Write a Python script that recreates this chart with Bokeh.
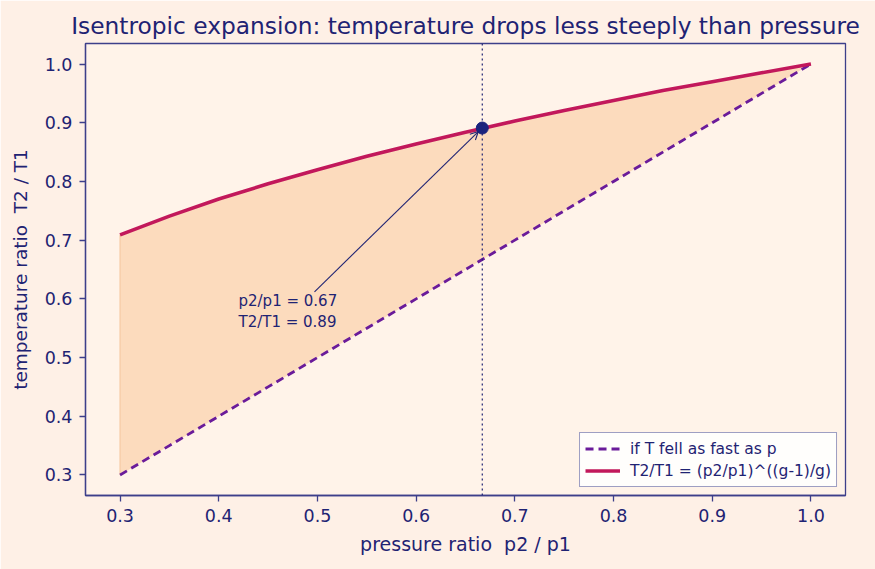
from bokeh.plotting import figure
from bokeh.models import Range1d, Span, Arrow, OpenHead, Label, Legend, LegendItem, ColumnDataSource, FixedTicker, PrintfTickFormatter
from bokeh.embed import file_html
from bokeh.resources import INLINE

# data
pressure_ratio = [0.30, 0.35, 0.40, 0.45, 0.50, 0.55, 0.60, 0.65, 0.70, 0.75, 0.80, 0.85, 0.90, 0.95, 1.00]
temp_ratio = [0.709, 0.741, 0.770, 0.796, 0.820, 0.843, 0.864, 0.884, 0.903, 0.921, 0.938, 0.955, 0.970, 0.985, 1.000]
linear_ratio = [0.30, 0.35, 0.40, 0.45, 0.50, 0.55, 0.60, 0.65, 0.70, 0.75, 0.80, 0.85, 0.90, 0.95, 1.00]
marker_p = [0.667]
marker_t = [0.891]
annot_text = "p2/p1 = 0.67\nT2/T1 = 0.89"
annot_xy = [0.42, 0.545]
arrow_from = [0.497, 0.612]
x_ticks = [0.3, 0.4, 0.5, 0.6, 0.7, 0.8, 0.9, 1.0]
y_ticks = [0.3, 0.4, 0.5, 0.6, 0.7, 0.8, 0.9, 1.0]

NAVY = "#1f2373"
SPINE = "#3d3f8a"
CRIMSON = "#c2185b"
PURPLE = "#6a1b9a"
FONT = "DejaVu Sans"

src = ColumnDataSource(dict(p=pressure_ratio, t=temp_ratio, lin=linear_ratio))

p = figure(width=875, height=569, output_backend="svg", toolbar_location=None,
           x_range=Range1d(0.265, 1.035), y_range=Range1d(0.265, 1.035),
           min_border_left=85, min_border_right=30, min_border_top=43, min_border_bottom=74,
           background_fill_color="#fff3e9", border_fill_color="#fef0e6",
           title="Isentropic expansion: temperature drops less steeply than pressure")

p.title.text_font = FONT
p.title.text_font_size = "23.3px"
p.title.text_font_style = "normal"
p.title.text_color = NAVY
p.title.align = "center"

p.outline_line_color = SPINE
p.outline_line_width = 1.3
p.grid.visible = False

for ax in (p.xaxis[0], p.yaxis[0]):
    ax.axis_line_color = SPINE
    ax.axis_line_width = 1.3
    ax.major_tick_line_color = SPINE
    ax.major_tick_line_width = 1.3
    ax.major_tick_out = 6
    ax.major_tick_in = 0
    ax.minor_tick_line_color = None
    ax.major_label_text_font = FONT
    ax.major_label_text_font_size = "17.5px"
    ax.major_label_text_color = NAVY
    ax.axis_label_text_font = FONT
    ax.axis_label_text_font_style = "normal"
    ax.axis_label_text_color = NAVY
    ax.major_label_standoff = 7
    ax.formatter = PrintfTickFormatter(format="%.1f")

p.xaxis.axis_label_text_font_size = "19px"
p.yaxis.axis_label_text_font_size = "18.5px"
p.xaxis.axis_label_standoff = 8
p.yaxis.axis_label_standoff = 11
p.xaxis.ticker = FixedTicker(ticks=x_ticks)
p.yaxis.ticker = FixedTicker(ticks=y_ticks)
p.xaxis.axis_label = "pressure ratio \u00a0p2 / p1"
p.yaxis.axis_label = "temperature ratio \u00a0T2 / T1"

p.varea(x="p", y1="lin", y2="t", source=src, fill_color="#fbd3ad", fill_alpha=0.75)
p.segment(x0=[pressure_ratio[0]], y0=[linear_ratio[0]], x1=[pressure_ratio[0]], y1=[temp_ratio[0]],
          line_color="#f6c9a3", line_width=1.2)

p.add_layout(Span(location=marker_p[0], dimension="height", line_color=NAVY,
                  line_width=1.2, line_dash="2 3"))

r_dash = p.line(x="p", y="lin", source=src, line_color=PURPLE, line_width=2.8, line_dash="8 5")
r_curve = p.line(x="p", y="t", source=src, line_color=CRIMSON, line_width=3.6)

p.scatter(x=marker_p, y=marker_t, size=12, color="#1a237e")

p.add_layout(Arrow(end=OpenHead(size=8, line_color=NAVY, line_width=1.1),
                   x_start=arrow_from[0], y_start=arrow_from[1],
                   x_end=marker_p[0] - 0.004, y_end=marker_t[0] - 0.006,
                   line_color=NAVY, line_width=1.1))

p.add_layout(Label(x=annot_xy[0], y=annot_xy[1], text=annot_text, text_font=FONT,
                   text_font_size="15px", text_color=NAVY, text_baseline="bottom",
                   text_line_height=1.2))

legend = Legend(items=[LegendItem(label="if T fell as fast as p", renderers=[r_dash]),
                       LegendItem(label="T2/T1 = (p2/p1)^((g-1)/g)", renderers=[r_curve])],
                location="bottom_right")
legend.label_text_font = FONT
legend.label_text_font_size = "15.5px"
legend.label_text_color = NAVY
legend.border_line_color = SPINE
legend.border_line_width = 1.3
legend.background_fill_color = "white"
legend.background_fill_alpha = 0.85
legend.glyph_width = 35
legend.label_height = 21
legend.glyph_height = 21
legend.spacing = 1
legend.padding = 5
legend.margin = 8
legend.label_standoff = 10
p.add_layout(legend)

open("out.html", "w").write(file_html(p, INLINE))
